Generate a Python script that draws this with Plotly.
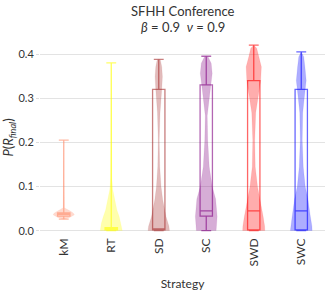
import plotly.graph_objects as go

strategies = ["kM", "RT", "SD", "SC", "SWD", "SWC"]
colors = [(255, 140, 105), (255, 255, 0), (165, 42, 42), (128, 0, 128), (255, 0, 0), (0, 0, 255)]

# box statistics
q1 = [0.033, 0.002, 0.002, 0.033, 0.002, 0.002]
median = [0.037, 0.004, 0.004, 0.045, 0.045, 0.045]
q3 = [0.040, 0.007, 0.320, 0.330, 0.340, 0.320]
lowf = [0.026, 0.0, 0.0, 0.0, 0.0, 0.0]
upf = [0.205, 0.380, 0.388, 0.395, 0.420, 0.405]

# violin density profiles (value levels, relative density)
levels_kM = [0.026, 0.030, 0.036, 0.040, 0.044, 0.049, 0.052, 0.10, 0.205]
dens_kM = [0.0, 6.0, 10.8, 9.5, 7.0, 3.0, 0.6, 0.3, 0.0]
levels_RT = [0.0, 0.002, 0.017, 0.032, 0.047, 0.063, 0.078, 0.093, 0.12, 0.2, 0.3, 0.38]
dens_RT = [11.2, 11.0, 10.0, 8.0, 5.7, 4.0, 2.7, 1.5, 0.6, 0.3, 0.25, 0.0]
levels_SD = [0.0, 0.01, 0.032, 0.07, 0.10, 0.145, 0.205, 0.267, 0.319, 0.349, 0.371, 0.386, 0.388]
dens_SD = [10.8, 10.3, 7.3, 4.0, 2.3, 1.0, 0.5, 1.3, 3.0, 3.7, 3.0, 1.7, 0.0]
levels_SC = [0.0, 0.01, 0.032, 0.072, 0.10, 0.145, 0.205, 0.26, 0.319, 0.356, 0.379, 0.393, 0.395]
dens_SC = [10.0, 10.5, 11.0, 9.5, 6.0, 3.0, 1.5, 1.0, 4.0, 6.0, 5.0, 2.0, 0.0]
levels_SWD = [0.0, 0.01, 0.032, 0.072, 0.10, 0.145, 0.205, 0.267, 0.30, 0.34, 0.371, 0.394, 0.413, 0.42]
dens_SWD = [11.2, 11.0, 9.5, 6.3, 3.8, 1.5, 1.0, 2.0, 4.5, 7.0, 7.7, 5.0, 3.0, 0.0]
levels_SWC = [0.0, 0.01, 0.032, 0.072, 0.10, 0.145, 0.205, 0.267, 0.30, 0.34, 0.371, 0.394, 0.405]
dens_SWC = [11.0, 10.8, 9.2, 6.7, 4.0, 2.0, 1.0, 1.5, 3.0, 5.0, 3.7, 2.5, 0.0]

levels = [levels_kM, levels_RT, levels_SD, levels_SC, levels_SWD, levels_SWC]
dens = [dens_kM, dens_RT, dens_SD, dens_SC, dens_SWD, dens_SWC]

scale = 1.0 / 48.0  # relative density -> x units

fig = go.Figure()
for i, name in enumerate(strategies):
    r, g, b = colors[i]
    lv = levels[i]
    d = dens[i]
    xs = [i + v * scale for v in d] + [i - v * scale for v in reversed(d)]
    ys = list(lv) + list(reversed(lv))
    fig.add_trace(go.Scatter(
        x=xs, y=ys, mode="lines", fill="toself",
        fillcolor=f"rgba({r},{g},{b},0.32)",
        line=dict(width=0.5, color=f"rgba({r},{g},{b},0.15)"),
        hoverinfo="skip", showlegend=False))
    fig.add_trace(go.Box(
        x=[i], q1=[q1[i]], median=[median[i]], q3=[q3[i]],
        lowerfence=[lowf[i]], upperfence=[upf[i]],
        width=0.26, whiskerwidth=0.8, boxpoints=False,
        fillcolor="rgba(0,0,0,0)",
        line=dict(color=f"rgba({r},{g},{b},0.6)", width=1.3),
        showlegend=False))

fig.update_layout(
    width=330, height=291,
    margin=dict(l=40, r=5, t=43, b=59, autoexpand=False),
    paper_bgcolor="white", plot_bgcolor="white",
    font=dict(family="Lato", size=11, color="#333333"),
    annotations=[
        dict(text="SFHH Conference", xref="paper", yref="paper", x=0.5, y=1.0,
             yshift=22, xanchor="center", yanchor="bottom", showarrow=False,
             font=dict(family="Lato", size=13, color="#333333")),
        dict(text="<i>β</i> = 0.9  <i>ν</i> = 0.9", xref="paper", yref="paper", x=0.5, y=1.0,
             yshift=6, xanchor="center", yanchor="bottom", showarrow=False,
             font=dict(family="Lato", size=13, color="#333333")),
    ],
    xaxis=dict(
        range=[-0.5, 5.5], tickvals=list(range(len(strategies))), ticktext=strategies,
        tickangle=-90, showgrid=False, zeroline=False, showline=False, automargin=False,
        ticks="", ticklabelstandoff=3,
        title=dict(text="Strategy", font=dict(size=12), standoff=17),
        tickfont=dict(size=12)),
    yaxis=dict(
        range=[-0.003, 0.425], tickvals=[0, 0.1, 0.2, 0.3, 0.4],
        ticktext=["0.0", "0.1", "0.2", "0.3", "0.4"], automargin=False,
        showgrid=True, gridcolor="#e3e3e3", gridwidth=1,
        zeroline=False, showline=False, ticks="outside", ticklen=3,
        tickcolor="#dddddd",
        title=dict(text="<i>P</i>(<i>R</i><sub><i>final</i></sub>)",
                   font=dict(size=13), standoff=1),
        tickfont=dict(size=11)),
)

fig.write_html("out.html", config={"displayModeBar": False},
               post_script="document.body.style.margin='0px';")
